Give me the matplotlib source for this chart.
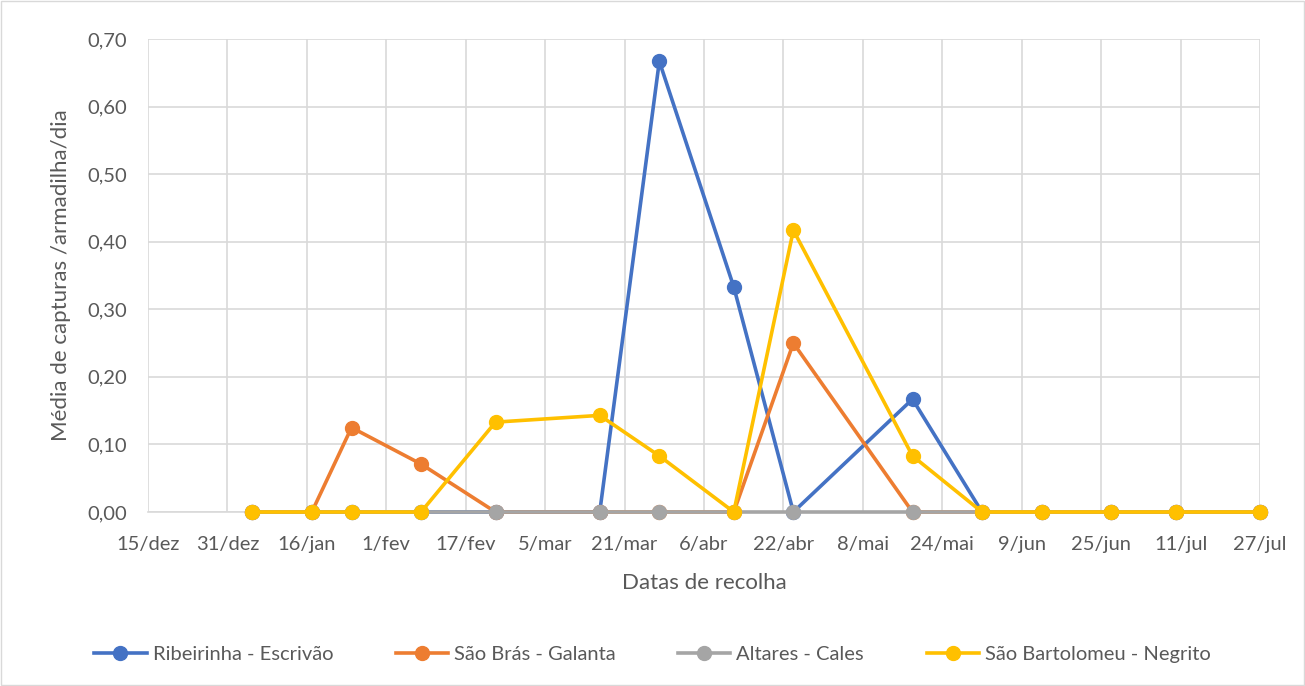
import numpy as np
import matplotlib.pyplot as plt
import matplotlib.dates as mdates
import pandas as pd
from matplotlib.ticker import FuncFormatter
from matplotlib.patches import Rectangle

plt.rcParams['font.family'] = ['Lato', 'DejaVu Sans']

# collection dates
datas = ["2019-01-05", "2019-01-17", "2019-01-25", "2019-02-08", "2019-02-23",
         "2019-03-16", "2019-03-28", "2019-04-12", "2019-04-24", "2019-05-18",
         "2019-06-01", "2019-06-13", "2019-06-27", "2019-07-10", "2019-07-27"]

ribeirinha = [0, 0, 0, 0, 0, 0, 0.667, 0.333, 0, 0.167, 0, 0, 0, 0, 0]
sao_bras = [0, 0, 0.125, 0.071, 0, 0, 0, 0, 0.25, 0, 0, 0, 0, 0, 0]
altares = [0, 0, 0, 0, 0, 0, 0, 0, 0, 0, 0, 0, 0, 0, 0]
sao_bartolomeu = [0, 0, 0, 0, 0.133, 0.143, 0.083, 0, 0.417, 0.083, 0, 0, 0, 0, 0]

series = [("Ribeirinha - Escrivão", ribeirinha, "#4472C4"),
          ("São Brás - Galanta", sao_bras, "#ED7D31"),
          ("Altares - Cales", altares, "#A5A5A5"),
          ("São Bartolomeu - Negrito", sao_bartolomeu, "#FFC000")]

meses = ["jan", "fev", "mar", "abr", "mai", "jun", "jul", "ago", "set", "out", "nov", "dez"]
x_ini = pd.Timestamp("2018-12-15")
x_fim = pd.Timestamp("2019-07-27")

x = pd.to_datetime(datas)
txt = "#595959"

fig = plt.figure(figsize=(13.05, 6.86), dpi=100)
ax = fig.add_axes([148/1305, 1 - 512/686, (1260-148)/1305, (512-39)/686])

for nome, vals, cor in series:
	ax.plot(x, vals, "-o", color=cor, lw=2.6, ms=10, label=nome, clip_on=False, zorder=3)

ticks = pd.date_range(x_ini, x_fim, freq="16D")
ax.set_xticks(ticks)
ax.xaxis.set_major_formatter(FuncFormatter(lambda v, p: "%d/%s" % (mdates.num2date(v).day, meses[mdates.num2date(v).month-1])))
ax.set_xlim(x_ini, x_fim)
ax.set_ylim(0, 0.7)
ax.set_yticks(np.arange(0, 0.71, 0.1))
ax.yaxis.set_major_formatter(FuncFormatter(lambda v, p: ("%.2f" % v).replace(".", ",")))

ax.grid(True, color="#d9d9d9", lw=1.2)
ax.set_axisbelow(True)
for s in ["top", "right", "left"]:
	ax.spines[s].set_visible(False)
ax.spines["bottom"].set_color("#d9d9d9")
ax.spines["bottom"].set_linewidth(1.2)
ax.tick_params(length=0, labelsize=14.5, colors=txt)
ax.tick_params(axis="x", pad=17)
ax.tick_params(axis="y", pad=15)

ax.set_xlabel("Datas de recolha", fontsize=16, color=txt, labelpad=15)
ax.set_ylabel("Média de capturas /armadilha/dia", fontsize=16, color=txt, labelpad=12)

fig.legend(loc="center", bbox_to_anchor=(0.5, 1 - 654/686), ncol=4, frameon=False,
	fontsize=14.5, labelcolor=txt, handlelength=2.6, columnspacing=3.1, handletextpad=0.3)

fig.patches.append(Rectangle((0.001, 0.001), 0.998, 0.998, transform=fig.transFigure,
	fill=False, edgecolor="#d9d9d9", lw=1))

fig.savefig("out.png", dpi=100)
